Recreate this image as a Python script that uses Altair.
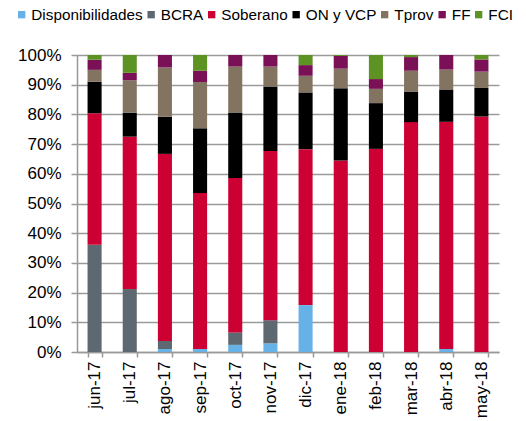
import altair as alt
import pandas as pd

months = ["jun-17", "jul-17", "ago-17", "sep-17", "oct-17", "nov-17",
          "dic-17", "ene-18", "feb-18", "mar-18", "abr-18", "may-18"]
series = ["Disponibilidades", "BCRA", "Soberano", "ON y VCP", "Tprov", "FF", "FCI"]
colors = ["#66B2E6", "#5E6870", "#CC0033", "#000000", "#837462", "#7A1157", "#5C9323"]

disp = [0, 0, 1.0, 1.0, 2.4, 2.9, 15.8, 0, 0, 0, 1.0, 0]
bcra = [36.1, 21.2, 2.7, 0, 4.2, 7.8, 0, 0, 0, 0, 0, 0]
sob = [44.3, 51.3, 63.0, 52.5, 52.0, 57.0, 52.5, 64.5, 68.4, 77.4, 76.5, 79.3]
on_vcp = [10.6, 8.1, 12.5, 21.8, 22.0, 21.7, 19.1, 24.3, 15.4, 10.3, 10.9, 9.6]
tprov = [4.0, 10.9, 16.6, 15.6, 15.5, 6.7, 5.6, 6.6, 4.8, 7.0, 6.7, 5.5]
ff = [3.4, 2.5, 4.2, 3.8, 3.9, 3.9, 3.6, 4.3, 3.3, 4.6, 4.9, 4.1]
fci = [1.6, 6.0, 0, 5.3, 0, 0, 3.4, 0.3, 8.1, 0.7, 0, 1.5]

values = [disp, bcra, sob, on_vcp, tprov, ff, fci]
rows = []
for si, (name, vals) in enumerate(zip(series, values)):
    for m, v in zip(months, vals):
        rows.append({"mes": m, "serie": name, "orden": si, "valor": v / 100.0})
df = pd.DataFrame(rows)

FONT = "Arial"

bars = alt.Chart(df).mark_bar().encode(
    x=alt.X("mes:N", sort=months, title=None,
            scale=alt.Scale(paddingInner=0.6, paddingOuter=0.3),
            axis=alt.Axis(labelAngle=270, tickBand="extent", tickSize=5,
                          labelPadding=4, domainColor="#999999", tickColor="#999999",
                          domainWidth=1.5, tickWidth=1.5, grid=False,
                          labelFontSize=17, labelColor="#000000", labelFont=FONT)),
    y=alt.Y("valor:Q", stack="zero", title=None,
            scale=alt.Scale(domain=[0, 1], nice=False),
            axis=alt.Axis(format=".0%", values=[0, 0.1, 0.2, 0.3, 0.4, 0.5, 0.6, 0.7, 0.8, 0.9, 1.0],
                          tickSize=6, labelPadding=10, grid=True, gridColor="#9A9A9A",
                          gridWidth=1.5, domainColor="#999999", tickColor="#999999",
                          domainWidth=1.5, tickWidth=1.5,
                          labelFontSize=17, labelColor="#000000", labelFont=FONT)),
    color=alt.Color("serie:N", sort=series,
                    scale=alt.Scale(domain=series, range=colors),
                    legend=alt.Legend(title=None, orient="none", direction="horizontal",
                                      columns=7, legendX=-63, legendY=-48,
                                      gridAlign="none",
                                      symbolType="square", symbolSize=54,
                                      symbolStrokeWidth=0, labelOffset=2,
                                      columnPadding=0.5, padding=0, labelLimit=300,
                                      labelFontSize=15.3, labelFont=FONT,
                                      labelColor="#000000")),
    order=alt.Order("orden:Q", sort="ascending"),
)

chart = bars.properties(
    width=422, height=297,
    autosize=alt.AutoSizeParams(type="none"),
    padding={"left": 69, "top": 47, "right": 19, "bottom": 68},
).configure_view(stroke=None)

chart.save("out.html", embed_options={"renderer": "svg", "actions": False})
